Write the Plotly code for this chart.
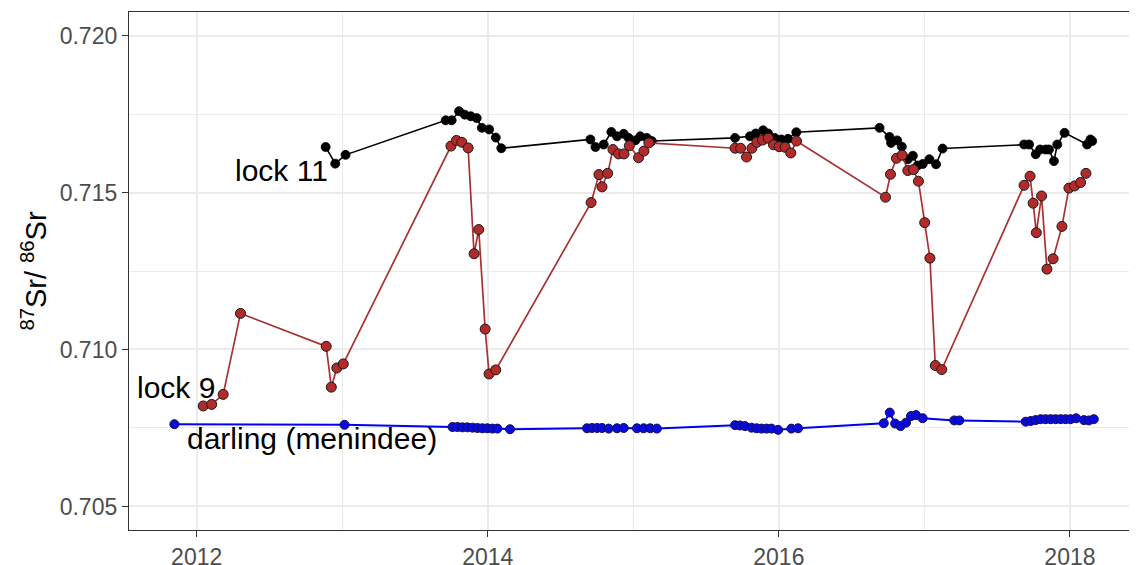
import plotly.graph_objects as go

# ---- data (decimal year, 87Sr/86Sr) ----
lock11_x = [2012.886, 2012.952, 2013.023,
            2013.711, 2013.752, 2013.803, 2013.842, 2013.883, 2013.924, 2013.959, 2014.009, 2014.055, 2014.093,
            2014.705, 2014.740, 2014.797, 2014.849, 2014.888, 2014.934, 2014.968, 2015.014, 2015.048, 2015.093, 2015.127,
            2015.699, 2015.801, 2015.841, 2015.892, 2015.926, 2015.971, 2016.017, 2016.063, 2016.120,
            2016.692, 2016.760, 2016.771, 2016.813, 2016.845, 2016.886, 2016.921, 2016.954, 2016.989, 2017.034, 2017.080, 2017.125,
            2017.685, 2017.719, 2017.765, 2017.795, 2017.833, 2017.856, 2017.890, 2017.913, 2017.963, 2018.118, 2018.141, 2018.153]
lock11_y = [0.71645, 0.71592, 0.71620,
            0.71730, 0.71730, 0.71759, 0.71748, 0.71743, 0.71737, 0.71706, 0.71701, 0.71675, 0.71641,
            0.71669, 0.71645, 0.71653, 0.71693, 0.71679, 0.71687, 0.71674, 0.71666, 0.71679, 0.71674, 0.71664,
            0.71674, 0.71679, 0.71688, 0.71698, 0.71688, 0.71674, 0.71669, 0.71671, 0.71692,
            0.71706, 0.71677, 0.71658, 0.71666, 0.71646, 0.71606, 0.71617, 0.71586, 0.71591, 0.71606, 0.71590, 0.71640,
            0.71653, 0.71653, 0.71622, 0.71637, 0.71637, 0.71637, 0.71600, 0.71653, 0.71690, 0.71653, 0.71669, 0.71664]

lock9_x = [2012.045, 2012.103, 2012.182, 2012.301, 2012.890, 2012.925, 2012.963, 2013.007,
           2013.747, 2013.785, 2013.822, 2013.865, 2013.906, 2013.938, 2013.982, 2014.009, 2014.055,
           2014.710, 2014.764, 2014.785, 2014.824, 2014.860, 2014.899, 2014.936, 2014.973, 2015.036, 2015.073, 2015.107,
           2015.699, 2015.737, 2015.778, 2015.815, 2015.849, 2015.888, 2015.927, 2015.963, 2016.002, 2016.043, 2016.082, 2016.121,
           2016.733, 2016.767, 2016.808, 2016.847, 2016.886, 2016.925, 2016.959, 2017.002, 2017.038, 2017.075, 2017.119,
           2017.685, 2017.726, 2017.747, 2017.769, 2017.805, 2017.842, 2017.884, 2017.945, 2017.993, 2018.032, 2018.073, 2018.110]
lock9_y = [0.70820, 0.70825, 0.70857, 0.71115, 0.71010, 0.70880, 0.70941, 0.70954,
           0.71648, 0.71666, 0.71660, 0.71642, 0.71305, 0.71382, 0.71065, 0.70922, 0.70935,
           0.71468, 0.71557, 0.71518, 0.71561, 0.71637, 0.71623, 0.71623, 0.71649, 0.71611, 0.71632, 0.71658,
           0.71641, 0.71641, 0.71613, 0.71641, 0.71660, 0.71667, 0.71673, 0.71652, 0.71646, 0.71644, 0.71626, 0.71664,
           0.71485, 0.71558, 0.71609, 0.71619, 0.71570, 0.71573, 0.71536, 0.71404, 0.71291, 0.70949, 0.70936,
           0.71523, 0.71552, 0.71466, 0.71372, 0.71489, 0.71256, 0.71289, 0.71392, 0.71514, 0.71521, 0.71532, 0.71561]

darling_x = [2011.847, 2013.016,
             2013.758, 2013.792, 2013.826, 2013.860, 2013.895, 2013.929, 2013.963, 2013.997, 2014.032, 2014.066, 2014.153,
             2014.682, 2014.716, 2014.751, 2014.785, 2014.831, 2014.888, 2014.934, 2015.025, 2015.071, 2015.116, 2015.162,
             2015.699, 2015.733, 2015.767, 2015.812, 2015.847, 2015.881, 2015.915, 2015.949, 2015.995, 2016.086, 2016.132,
             2016.721, 2016.762, 2016.799, 2016.836, 2016.874, 2016.908, 2016.942, 2016.988, 2017.205, 2017.240,
             2017.696, 2017.730, 2017.764, 2017.799, 2017.833, 2017.867, 2017.901, 2017.936, 2017.970, 2018.004, 2018.043,
             2018.096, 2018.130, 2018.164]
darling_y = [0.70762, 0.70760,
             0.70753, 0.70753, 0.70752, 0.70752, 0.70751, 0.70750, 0.70749, 0.70749, 0.70748, 0.70748, 0.70746,
             0.70749, 0.70750, 0.70750, 0.70750, 0.70748, 0.70749, 0.70750, 0.70749, 0.70749, 0.70749, 0.70748,
             0.70759, 0.70758, 0.70756, 0.70751, 0.70749, 0.70748, 0.70748, 0.70748, 0.70744, 0.70748, 0.70749,
             0.70765, 0.70799, 0.70764, 0.70756, 0.70767, 0.70788, 0.70791, 0.70781, 0.70774, 0.70774,
             0.70770, 0.70772, 0.70775, 0.70778, 0.70778, 0.70778, 0.70778, 0.70778, 0.70778, 0.70778, 0.70781,
             0.70775, 0.70774, 0.70778]

x_ticks = [2012, 2014, 2016, 2018]
x_minor = [2013, 2015, 2017]
y_ticks = [0.705, 0.710, 0.715, 0.720]
y_minor = [0.7075, 0.7125, 0.7175]

labels = ["lock 11", "lock 9", "darling (menindee)"]
label_x = [2012.913, 2012.139, 2011.920]
label_y = [0.71569, 0.70878, 0.70716]

FONT = "Liberation Sans, Arial, sans-serif"

fig = go.Figure()
fig.add_trace(go.Scatter(x=lock11_x, y=lock11_y, mode="lines+markers",
                         line=dict(color="black", width=1.6),
                         marker=dict(color="black", size=9, line=dict(color="black", width=0.8))))
fig.add_trace(go.Scatter(x=lock9_x, y=lock9_y, mode="lines+markers",
                         line=dict(color="#a83232", width=1.7),
                         marker=dict(color="#b22a2a", size=10, line=dict(color="#1a1a1a", width=1))))
fig.add_trace(go.Scatter(x=darling_x, y=darling_y, mode="lines+markers",
                         line=dict(color="#0000ee", width=2),
                         marker=dict(color="#0a0ae0", size=9, line=dict(color="#101050", width=1))))

fig.add_annotation(x=label_x[0], y=label_y[0], text=labels[0], showarrow=False,
                   xanchor="right", yanchor="middle", font=dict(size=30, color="black", family=FONT))
fig.add_annotation(x=label_x[1], y=label_y[1], text=labels[1], showarrow=False,
                   xanchor="right", yanchor="middle", font=dict(size=30, color="black", family=FONT))
fig.add_annotation(x=label_x[2], y=label_y[2], text=labels[2], showarrow=False,
                   xanchor="left", yanchor="middle", font=dict(size=30, color="black", family=FONT))

axis_common = dict(showline=True, mirror=True, linecolor="#333333", linewidth=1.3,
                   ticks="outside", ticklen=6, tickcolor="#333333", tickwidth=1.3,
                   showgrid=True, gridcolor="#ebebeb", gridwidth=1.6, zeroline=False,
                   automargin=False,
                   tickfont=dict(size=23, color="#4d4d4d", family=FONT))

fig.update_xaxes(range=[2011.535, 2018.447], tickmode="array", tickvals=x_ticks,
                 ticktext=[str(v) for v in x_ticks],
                 minor=dict(tickvals=x_minor, showgrid=True, gridcolor="#ebebeb", gridwidth=1.2, ticks=""),
                 **axis_common)
fig.update_yaxes(range=[0.70425, 0.72075], tickmode="array", tickvals=y_ticks,
                 ticktext=[f"{v:.3f}" for v in y_ticks],
                 minor=dict(tickvals=y_minor, showgrid=True, gridcolor="#ebebeb", gridwidth=1.2, ticks=""),
                 title=dict(text="<sup>87</sup>Sr/ <sup>86</sup>Sr", font=dict(size=29, color="black", family=FONT),
                            standoff=4),
                 **axis_common)

# the page body has an 8px default margin, so the figure is shifted by 8px
fig.update_layout(width=1129, height=557, showlegend=False,
                  plot_bgcolor="white", paper_bgcolor="white",
                  margin=dict(l=121, r=2, t=4, b=35), autosize=False)

fig.write_html("out.html")
